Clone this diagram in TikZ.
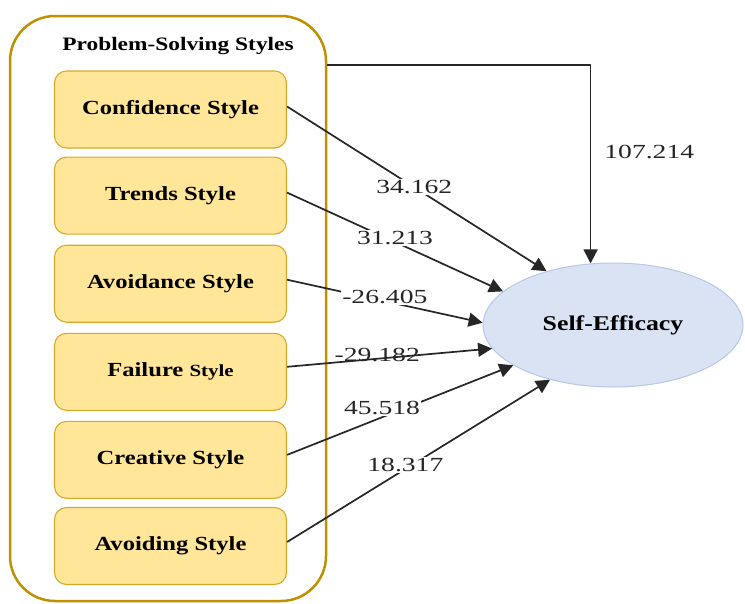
\documentclass[tikz,border=0pt]{standalone}
\usepackage{fontspec}
\setmainfont{Liberation Serif}
\newfontfamily\stylefont[FakeStretch=1.23]{Liberation Serif}
\newfontfamily\numfont[FakeStretch=1.38]{Liberation Serif}
\usetikzlibrary{positioning,shapes.geometric,arrows.meta}
\definecolor{goldline}{RGB}{191,144,0}
\definecolor{boxfill}{RGB}{255,230,153}
\definecolor{boxline}{RGB}{214,170,40}
\definecolor{effill}{RGB}{218,227,243}
\definecolor{efline}{RGB}{180,199,231}
\begin{document}
\begin{tikzpicture}[x=1pt, y=-1pt, line join=round, >={Triangle[length=14pt,width=14pt]}]
	\tikzset{stylebox/.style={draw=boxline, fill=boxfill, line width=1.1pt, rounded corners=12pt, minimum width=232pt, minimum height=77pt, inner sep=0pt, font=\stylefont\fontsize{20}{22}\selectfont\bfseries},
		coef/.style={fill=white, inner sep=1pt, font=\numfont\fontsize{20}{22}\selectfont},
		coefpath/.style={->, line width=1.7pt, black!85}}
	\useasboundingbox (0,0) rectangle (745,603);
	\node[draw=goldline, line width=2.5pt, rounded corners=45pt, minimum width=316pt, minimum height=585pt, inner sep=0pt] (pss) at (168,308.5) {};
	\node[font=\stylefont\fontsize{19}{21}\selectfont\bfseries] (title) at (178,46) {Problem-Solving Styles};
	\node[stylebox] (conf) at (170.5,109.5) {Confidence Style};
	\node[stylebox, below=8pt of conf] (trend) {Trends Style};
	\node[stylebox, below=10pt of trend] (avoid) {Avoidance Style};
	\node[stylebox, below=10pt of avoid] (fail) {Failure {\fontsize{17}{19}\selectfont Style}};
	\node[stylebox, below=10pt of fail] (creat) {Creative Style};
	\node[stylebox, below=8pt of creat] (avoi) {Avoiding Style};
	\node[ellipse, draw=efline, fill=effill, line width=1pt, minimum width=260pt, minimum height=124pt, font=\stylefont\fontsize{21}{23}\selectfont\bfseries] (se) at (613,325) {Self-Efficacy};
	% paths to self-efficacy
	\draw[coefpath] ([yshift=-50pt]pss.north east) -| (se.110) node[coef, pos=0.72, right=12pt, fill=none] {107.214};
	\draw[coefpath] ([yshift=3pt]conf.east) -- (se.141) node[coef, pos=0.49] {34.162};
	\draw[coefpath] ([yshift=3pt]trend.east) -- (se.163) node[coef, pos=0.5, yshift=4pt] {31.213};
	\draw[coefpath] ([yshift=4pt]avoid.east) -- (se.179) node[coef, pos=0.5, yshift=4pt] {-26.405};
	\draw[coefpath] ([yshift=5pt]fail.east) -- (se.191) node[coef, pos=0.44, yshift=4pt, fill=none] {-29.182};
	\draw[coefpath] ([yshift=5pt]creat.east) -- (se.202) node[coef, pos=0.42, yshift=9pt] {45.518};
	\draw[coefpath] ([yshift=4pt]avoi.east) -- (se.221) node[coef, pos=0.45, yshift=4pt] {18.317};
\end{tikzpicture}
\end{document}
